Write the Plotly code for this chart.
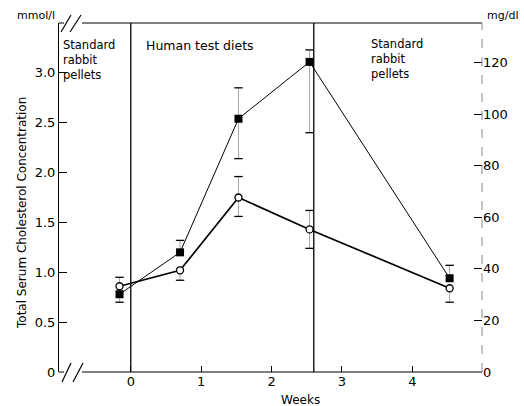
import plotly.graph_objects as go

# ---- data ----
weeks = [-0.16, 0.70, 1.53, 2.54, 4.53]
filled_mmol = [0.78, 1.20, 2.54, 3.11, 0.94]
filled_err_plus = [0.00, 0.12, 0.31, 0.12, 0.13]
filled_err_minus = [0.08, 0.00, 0.40, 0.71, 0.00]
open_mmol = [0.86, 1.02, 1.75, 1.43, 0.84]
open_err_plus = [0.09, 0.00, 0.21, 0.19, 0.00]
open_err_minus = [0.00, 0.10, 0.19, 0.19, 0.14]

phase_boundaries = [0.0, 2.6]
x_ticks = [0, 1, 2, 3, 4, 5]
y_left_ticks = [0, 0.5, 1.0, 1.5, 2.0, 2.5, 3.0]
y_left_labels = ["0", "0.5", "1.0", "1.5", "2.0", "2.5", "3.0"]
y_right_ticks = [0, 20, 40, 60, 80, 100, 120]
y_right_labels = ["0", "20", "40", "60", "80", "100", "120"]
MGDL_PER_MMOL = 38.67

FONT = "DejaVu Sans"
W, H = 524, 406
L, R, T, B = 59, 42, 23, 34
PW, PH = W - L - R, H - T - B


def px(xp):
    return (xp - L) / PW


def py(yp):
    return (H - B - yp) / PH


fig = go.Figure()

# error stems (faint, as in the print)
for ys, ep, em in [(filled_mmol, filled_err_plus, filled_err_minus),
                   (open_mmol, open_err_plus, open_err_minus)]:
    fig.add_trace(go.Scatter(
        x=weeks, y=ys, mode="markers", marker=dict(size=1, opacity=0, color="black"),
        error_y=dict(type="data", array=ep, arrayminus=em, symmetric=False,
                     color="rgba(0,0,0,0.35)", thickness=1, width=0),
        showlegend=False, hoverinfo="skip"))

# caps
cap_x, cap_y = [], []
for ys, ep, em in [(filled_mmol, filled_err_plus, filled_err_minus),
                   (open_mmol, open_err_plus, open_err_minus)]:
    for xv, yv, p, m in zip(weeks, ys, ep, em):
        if p > 0:
            cap_x.append(xv); cap_y.append(yv + p)
        if m > 0:
            cap_x.append(xv); cap_y.append(yv - m)
fig.add_trace(go.Scatter(
    x=cap_x, y=cap_y, mode="markers",
    marker=dict(symbol="line-ew-open", size=6, color="black", line=dict(color="black", width=1.3)),
    showlegend=False, hoverinfo="skip"))

# series
fig.add_trace(go.Scatter(
    x=weeks, y=open_mmol, mode="lines+markers",
    line=dict(color="black", width=1.7),
    marker=dict(symbol="circle", size=7, color="white", line=dict(color="black", width=1.3)),
    showlegend=False))
fig.add_trace(go.Scatter(
    x=weeks, y=filled_mmol, mode="lines+markers",
    line=dict(color="black", width=1),
    marker=dict(symbol="square", size=8, color="black"),
    showlegend=False))

# secondary axis (mg/dl) anchor trace
fig.add_trace(go.Scatter(x=[None], y=[None], yaxis="y2", showlegend=False))

shapes = []
for xb in phase_boundaries:
    shapes.append(dict(type="line", xref="x", yref="paper", x0=xb, x1=xb, y0=0, y1=1,
                       line=dict(color="black", width=1.3)))
# bottom / top frame with break
for yv in [0, 1]:
    shapes.append(dict(type="line", xref="paper", yref="paper", x0=px(82), x1=1, y0=yv, y1=yv,
                       line=dict(color="black", width=1)))
    shapes.append(dict(type="line", xref="paper", yref="paper", x0=0, x1=px(64), y0=yv, y1=yv,
                       line=dict(color="black", width=1)))
# break marks
for (x0, y0, x1, y1) in [(62, 382, 71, 363), (73, 382, 83, 363),
                         (61, 32, 71, 15), (70, 32, 81, 15)]:
    shapes.append(dict(type="line", xref="paper", yref="paper",
                       x0=px(x0), y0=py(y0), x1=px(x1), y1=py(y1),
                       line=dict(color="black", width=1.2)))
# right axis line (faint dashed)
shapes.append(dict(type="line", xref="paper", yref="paper", x0=1, x1=1, y0=0, y1=1,
                   line=dict(color="#888", width=1, dash="dash")))

annotations = []


def txt(s, xp, yp, xanchor="left", yanchor="middle", size=13, angle=0, align="left"):
    annotations.append(dict(text=s, xref="paper", yref="paper", x=px(xp), y=py(yp),
                            xanchor=xanchor, yanchor=yanchor, showarrow=False, align=align,
                            textangle=angle, font=dict(family=FONT, size=size, color="black")))


txt("mmol/l", 57, 15, xanchor="right", size=11)
txt("mg/dl", 485, 15, xanchor="left", size=11)
txt("Standard<br>rabbit<br>pellets", 61, 60, size=11.5)
txt("Standard<br>rabbit<br>pellets", 369, 59, size=11.5)
txt("Human test diets", 144, 46, size=12.5)
txt("Total Serum Cholesterol Concentration", 22, 213, xanchor="center", size=12, angle=-90)
txt("Weeks", 300, 391, xanchor="center", yanchor="top", size=12)

fig.update_layout(
    width=W, height=H,
    margin=dict(l=L, r=R, t=T, b=B, pad=0),
    paper_bgcolor="white", plot_bgcolor="white",
    font=dict(family=FONT, size=12, color="black"),
    xaxis=dict(range=[-1.02, 4.99], tickvals=x_ticks, ticktext=[str(v) for v in x_ticks],
               ticks="inside", ticklen=6, tickcolor="black", showgrid=False, zeroline=False,
               showline=False, tickfont=dict(size=13)),
    yaxis=dict(range=[0, 3.5], tickvals=y_left_ticks, ticktext=y_left_labels,
               ticks="inside", ticklen=8, tickcolor="black", showgrid=False, zeroline=False,
               showline=True, linecolor="black", linewidth=1, tickfont=dict(size=13)),
    yaxis2=dict(range=[0, 3.5 * MGDL_PER_MMOL], overlaying="y", side="right",
                tickvals=y_right_ticks, ticktext=y_right_labels,
                ticks="inside", ticklen=8, tickcolor="black", showgrid=False, zeroline=False,
                showline=False, tickfont=dict(size=13)),
    shapes=shapes, annotations=annotations,
)

fig.write_html("out.html", config={"displayModeBar": False},
               post_script="document.body.style.margin='0';document.body.style.overflow='hidden';")
